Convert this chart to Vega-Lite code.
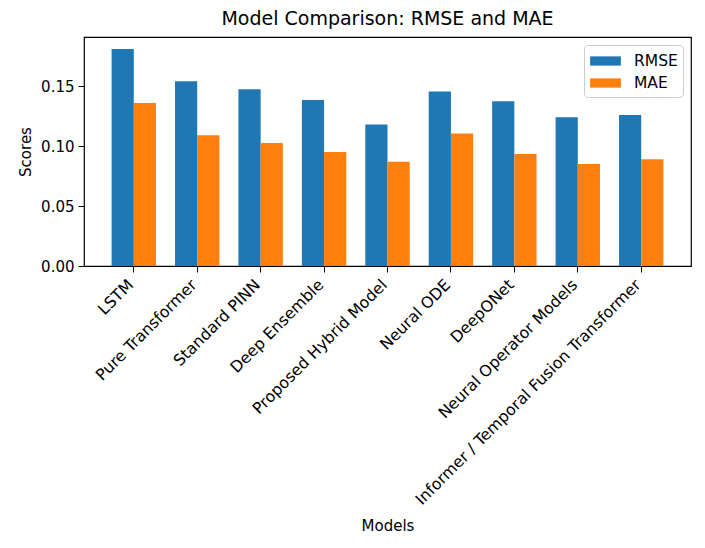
{
  "$schema": "https://vega.github.io/schema/vega-lite/v6.json",
  "description": "Model comparison grouped bars",
  "autosize": {"type": "none"},
  "width": 607,
  "height": 229,
  "padding": {"left": 84, "top": 37, "right": 14, "bottom": 282},
  "background": "white",
  "config": {
    "font": "DejaVu Sans",
    "view": {"stroke": "black", "strokeWidth": 1.2},
    "axis": {
      "grid": false,
      "domain": false,
      "tickColor": "black",
      "tickSize": 6,
      "labelColor": "black",
      "labelFontSize": 15,
      "titleFontSize": 15,
      "titleFontWeight": "normal",
      "titleColor": "black"
    }
  },
  "title": {
    "text": "Model Comparison: RMSE and MAE",
    "fontSize": 19,
    "fontWeight": "normal",
    "color": "black",
    "offset": 8
  },
  "data": {
    "values": [
      {"model": "LSTM", "metric": "RMSE", "value": 0.181},
      {"model": "LSTM", "metric": "MAE", "value": 0.136},
      {"model": "Pure Transformer", "metric": "RMSE", "value": 0.154},
      {"model": "Pure Transformer", "metric": "MAE", "value": 0.109},
      {"model": "Standard PINN", "metric": "RMSE", "value": 0.1475},
      {"model": "Standard PINN", "metric": "MAE", "value": 0.1025},
      {"model": "Deep Ensemble", "metric": "RMSE", "value": 0.1385},
      {"model": "Deep Ensemble", "metric": "MAE", "value": 0.095},
      {"model": "Proposed Hybrid Model", "metric": "RMSE", "value": 0.118},
      {"model": "Proposed Hybrid Model", "metric": "MAE", "value": 0.087},
      {"model": "Neural ODE", "metric": "RMSE", "value": 0.1455},
      {"model": "Neural ODE", "metric": "MAE", "value": 0.1105},
      {"model": "DeepONet", "metric": "RMSE", "value": 0.1375},
      {"model": "DeepONet", "metric": "MAE", "value": 0.0935},
      {"model": "Neural Operator Models", "metric": "RMSE", "value": 0.124},
      {"model": "Neural Operator Models", "metric": "MAE", "value": 0.085},
      {"model": "Informer / Temporal Fusion Transformer", "metric": "RMSE", "value": 0.126},
      {"model": "Informer / Temporal Fusion Transformer", "metric": "MAE", "value": 0.089}
    ]
  },
  "mark": {"type": "bar"},
  "encoding": {
    "x": {
      "field": "model",
      "type": "nominal",
      "sort": null,
      "scale": {"paddingInner": 0.3, "paddingOuter": 0.435},
      "title": "Models",
      "axis": {
        "labelAngle": -45,
        "labelAlign": "right",
        "labelBaseline": "top",
        "labelPadding": 5,
        "labelOffset": -8,
        "labelFontSize": 15.8,
        "labelLimit": 0,
        "titleBaseline": "alphabetic",
        "titleY": 264
      }
    },
    "xOffset": {
      "field": "metric",
      "type": "nominal",
      "sort": ["RMSE", "MAE"],
      "scale": {"paddingInner": 0, "paddingOuter": 0}
    },
    "y": {
      "field": "value",
      "type": "quantitative",
      "title": "Scores",
      "scale": {"domain": [0, 0.191], "nice": false, "zero": true},
      "axis": {"values": [0, 0.05, 0.1, 0.15], "format": ".2f", "titlePadding": 7, "labelPadding": 4}
    },
    "color": {
      "field": "metric",
      "type": "nominal",
      "sort": ["RMSE", "MAE"],
      "scale": {"domain": ["RMSE", "MAE"], "range": ["#1f77b4", "#ff7f0e"]},
      "legend": {
        "title": null,
        "orient": "top-right",
        "offset": 8,
        "padding": 5,
        "fillColor": "white",
        "strokeColor": "#cccccc",
        "cornerRadius": 4,
        "labelFontSize": 15.5,
        "labelColor": "black",
        "symbolType": "M-0.9,-0.42L1.9,-0.42L1.9,0.42L-0.9,0.42Z",
        "symbolSize": 484,
        "symbolStrokeWidth": 0,
        "symbolOpacity": 1,
        "labelOffset": 23,
        "rowPadding": 2
      }
    }
  }
}
